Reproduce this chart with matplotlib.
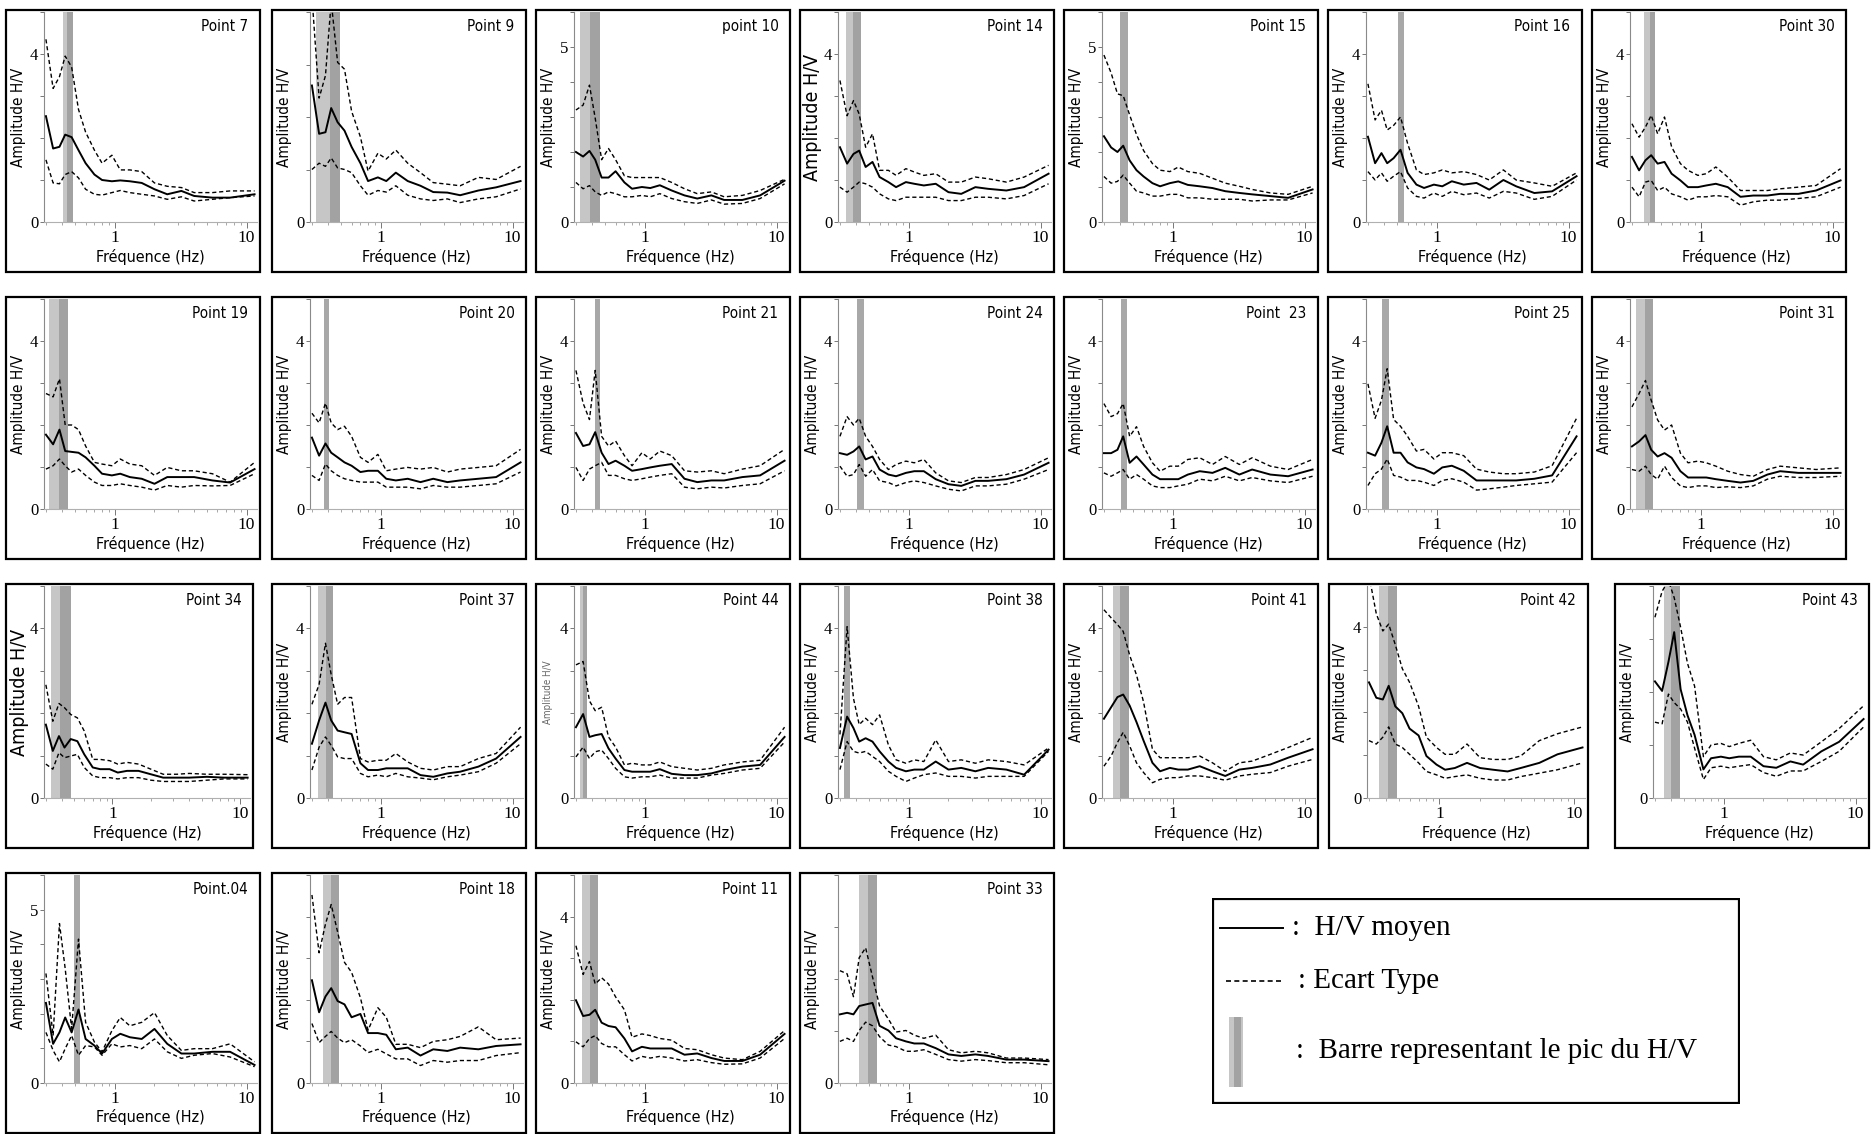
import matplotlib
matplotlib.use("Agg")
import matplotlib.pyplot as plt
from matplotlib.patches import Rectangle
from matplotlib.ticker import FixedLocator, FixedFormatter, LogLocator, NullFormatter

# fréquences communes (Hz)
freq = [0.30, 0.34, 0.38, 0.42, 0.47, 0.53, 0.60, 0.70, 0.80, 0.95,
        1.1, 1.3, 1.6, 2.0, 2.5, 3.2, 4.0, 5.5, 7.5, 11.5]

# --- rangée 1 ---
p7_moy = [2.52, 1.75, 1.79, 2.08, 2.02, 1.71, 1.40, 1.13, 1.00, 0.97, 0.99, 0.97, 0.93, 0.78, 0.66, 0.74, 0.62, 0.58, 0.58, 0.66]
p7_sup = [4.35, 3.18, 3.46, 3.95, 3.69, 2.68, 2.14, 1.71, 1.40, 1.59, 1.24, 1.24, 1.20, 0.93, 0.85, 0.82, 0.70, 0.70, 0.74, 0.74]
p7_inf = [1.48, 0.93, 0.91, 1.13, 1.20, 1.05, 0.78, 0.66, 0.64, 0.70, 0.75, 0.70, 0.66, 0.62, 0.54, 0.60, 0.50, 0.54, 0.58, 0.62]

p9_moy = [2.60, 1.68, 1.71, 2.17, 1.90, 1.74, 1.43, 1.12, 0.78, 0.85, 0.78, 0.94, 0.78, 0.69, 0.57, 0.56, 0.51, 0.60, 0.66, 0.78]
p9_sup = [4.30, 2.36, 2.79, 4.20, 3.04, 2.91, 2.11, 1.62, 0.97, 1.31, 1.20, 1.37, 1.12, 0.94, 0.75, 0.72, 0.69, 0.85, 0.81, 1.06]
p9_inf = [1.00, 1.12, 1.06, 1.22, 1.03, 1.00, 0.94, 0.69, 0.51, 0.60, 0.57, 0.69, 0.51, 0.44, 0.41, 0.44, 0.37, 0.44, 0.48, 0.63]

p10_moy = [2.00, 1.87, 2.03, 1.78, 1.27, 1.27, 1.45, 1.13, 0.95, 1.00, 0.97, 1.05, 0.90, 0.76, 0.67, 0.76, 0.63, 0.63, 0.76, 1.18]
p10_sup = [3.20, 3.34, 3.91, 2.97, 1.78, 2.10, 1.78, 1.32, 1.27, 1.27, 1.27, 1.27, 1.13, 0.95, 0.81, 0.86, 0.72, 0.76, 0.90, 1.22]
p10_inf = [1.13, 0.95, 1.04, 0.86, 0.76, 0.86, 0.81, 0.72, 0.72, 0.76, 0.72, 0.81, 0.67, 0.58, 0.53, 0.63, 0.51, 0.53, 0.67, 1.09]

p14_moy = [1.78, 1.39, 1.62, 1.70, 1.31, 1.43, 1.07, 0.95, 0.83, 0.95, 0.91, 0.87, 0.91, 0.71, 0.67, 0.83, 0.79, 0.75, 0.83, 1.15]
p14_sup = [3.37, 2.53, 2.89, 2.57, 1.78, 2.10, 1.23, 1.23, 1.11, 1.27, 1.19, 1.11, 1.15, 0.95, 0.95, 1.07, 1.03, 0.95, 1.07, 1.35]
p14_inf = [0.83, 0.71, 0.83, 0.95, 0.91, 0.83, 0.67, 0.55, 0.51, 0.59, 0.59, 0.59, 0.59, 0.51, 0.51, 0.59, 0.59, 0.55, 0.63, 0.91]

p15_moy = [2.45, 2.13, 2.00, 2.18, 1.76, 1.48, 1.30, 1.11, 1.02, 1.11, 1.16, 1.06, 1.02, 0.97, 0.88, 0.83, 0.79, 0.74, 0.69, 0.93]
p15_sup = [4.77, 4.26, 3.66, 3.61, 3.06, 2.50, 2.04, 1.67, 1.48, 1.44, 1.57, 1.44, 1.39, 1.25, 1.11, 1.02, 0.93, 0.83, 0.79, 1.02]
p15_inf = [1.30, 1.11, 1.16, 1.34, 1.11, 0.88, 0.83, 0.74, 0.74, 0.79, 0.79, 0.69, 0.69, 0.65, 0.65, 0.65, 0.60, 0.63, 0.63, 0.83]

p16_moy = [2.03, 1.40, 1.64, 1.40, 1.52, 1.72, 1.17, 0.89, 0.81, 0.89, 0.85, 0.97, 0.89, 0.93, 0.77, 1.00, 0.85, 0.69, 0.73, 1.09]
p16_sup = [3.29, 2.43, 2.66, 2.19, 2.30, 2.50, 1.87, 1.24, 1.13, 1.17, 1.24, 1.17, 1.20, 1.13, 1.00, 1.24, 1.00, 0.93, 0.85, 1.17]
p16_inf = [1.20, 1.00, 1.17, 0.97, 1.09, 1.20, 0.81, 0.61, 0.57, 0.69, 0.61, 0.73, 0.65, 0.69, 0.57, 0.73, 0.69, 0.54, 0.61, 1.00]

p30_moy = [1.55, 1.23, 1.47, 1.59, 1.39, 1.43, 1.15, 0.99, 0.83, 0.83, 0.87, 0.91, 0.83, 0.60, 0.63, 0.63, 0.67, 0.67, 0.75, 0.99]
p30_sup = [2.34, 2.02, 2.26, 2.54, 2.10, 2.50, 1.79, 1.39, 1.23, 1.11, 1.15, 1.31, 1.07, 0.75, 0.75, 0.75, 0.79, 0.83, 0.87, 1.27]
p30_inf = [0.83, 0.60, 0.95, 0.99, 0.75, 0.83, 0.67, 0.60, 0.52, 0.60, 0.60, 0.63, 0.60, 0.40, 0.48, 0.52, 0.52, 0.56, 0.60, 0.83]

# --- rangée 2 ---
p19_moy = [1.77, 1.54, 1.89, 1.38, 1.36, 1.34, 1.23, 1.03, 0.84, 0.80, 0.84, 0.76, 0.72, 0.60, 0.76, 0.76, 0.76, 0.68, 0.63, 0.95]
p19_sup = [2.75, 2.67, 3.10, 2.00, 2.00, 1.89, 1.50, 1.11, 1.07, 1.03, 1.19, 1.07, 1.03, 0.80, 0.99, 0.91, 0.91, 0.84, 0.64, 1.11]
p19_inf = [0.95, 1.03, 1.19, 1.03, 0.88, 0.95, 0.80, 0.64, 0.56, 0.56, 0.60, 0.56, 0.52, 0.45, 0.56, 0.52, 0.56, 0.55, 0.56, 0.84]

p20_moy = [1.70, 1.27, 1.56, 1.34, 1.23, 1.11, 1.03, 0.88, 0.91, 0.91, 0.72, 0.68, 0.72, 0.64, 0.72, 0.64, 0.68, 0.72, 0.76, 1.11]
p20_sup = [2.28, 2.05, 2.52, 2.05, 1.89, 1.97, 1.73, 1.23, 1.11, 1.30, 0.91, 0.95, 0.99, 0.95, 0.99, 0.88, 0.95, 0.99, 1.03, 1.42]
p20_inf = [0.80, 0.68, 1.07, 0.91, 0.80, 0.72, 0.68, 0.64, 0.64, 0.64, 0.52, 0.52, 0.52, 0.48, 0.56, 0.52, 0.52, 0.56, 0.60, 0.88]

p21_moy = [1.81, 1.50, 1.54, 1.83, 1.34, 1.07, 1.15, 1.03, 0.91, 0.95, 0.99, 1.03, 1.07, 0.72, 0.64, 0.68, 0.68, 0.76, 0.80, 1.15]
p21_sup = [3.30, 2.52, 2.13, 3.30, 1.73, 1.50, 1.62, 1.27, 1.03, 1.34, 1.19, 1.38, 1.27, 0.91, 0.88, 0.91, 0.84, 0.95, 1.03, 1.42]
p21_inf = [0.99, 0.68, 0.95, 1.03, 1.11, 0.80, 0.80, 0.72, 0.68, 0.72, 0.76, 0.80, 0.84, 0.52, 0.48, 0.52, 0.50, 0.56, 0.60, 0.91]

p24_moy = [1.33, 1.29, 1.37, 1.49, 1.18, 1.25, 0.94, 0.82, 0.78, 0.86, 0.90, 0.90, 0.71, 0.59, 0.55, 0.67, 0.67, 0.71, 0.82, 1.10]
p24_sup = [1.73, 2.20, 2.00, 2.16, 1.73, 1.49, 1.18, 0.94, 1.06, 1.14, 1.10, 1.18, 0.86, 0.67, 0.63, 0.75, 0.75, 0.82, 0.94, 1.22]
p24_inf = [1.02, 0.78, 0.82, 1.06, 0.78, 0.94, 0.67, 0.63, 0.55, 0.63, 0.67, 0.63, 0.55, 0.47, 0.43, 0.55, 0.55, 0.59, 0.71, 0.94]

p23_moy = [1.33, 1.33, 1.41, 1.73, 1.10, 1.25, 1.06, 0.82, 0.71, 0.71, 0.71, 0.82, 0.90, 0.86, 0.98, 0.82, 0.94, 0.82, 0.78, 0.94]
p23_sup = [2.51, 2.20, 2.27, 2.51, 1.73, 1.96, 1.49, 1.10, 0.90, 1.02, 1.02, 1.18, 1.22, 1.06, 1.25, 1.06, 1.22, 1.02, 0.94, 1.18]
p23_inf = [0.86, 0.78, 0.86, 0.94, 0.71, 0.82, 0.71, 0.55, 0.51, 0.51, 0.55, 0.59, 0.71, 0.67, 0.78, 0.67, 0.75, 0.67, 0.63, 0.78]

p25_moy = [1.34, 1.27, 1.58, 1.97, 1.34, 1.34, 1.11, 0.99, 0.95, 0.84, 0.99, 1.03, 0.91, 0.68, 0.68, 0.68, 0.68, 0.72, 0.80, 1.73]
p25_sup = [2.98, 2.16, 2.59, 3.34, 2.13, 1.97, 1.73, 1.38, 1.42, 1.19, 1.34, 1.34, 1.27, 0.95, 0.88, 0.84, 0.84, 0.88, 1.03, 2.16]
p25_inf = [0.56, 0.84, 0.95, 1.19, 0.80, 0.76, 0.68, 0.68, 0.64, 0.56, 0.68, 0.72, 0.64, 0.45, 0.48, 0.52, 0.56, 0.60, 0.64, 1.34]

p31_moy = [1.49, 1.61, 1.76, 1.41, 1.25, 1.33, 1.22, 0.90, 0.75, 0.75, 0.75, 0.71, 0.67, 0.63, 0.67, 0.82, 0.90, 0.86, 0.86, 0.86]
p31_sup = [2.43, 2.75, 3.06, 2.59, 2.12, 1.88, 2.00, 1.33, 1.10, 1.14, 1.10, 1.02, 0.90, 0.82, 0.78, 0.94, 1.02, 0.98, 0.94, 0.98]
p31_inf = [0.94, 0.90, 1.02, 0.82, 0.71, 1.02, 0.75, 0.55, 0.51, 0.55, 0.55, 0.51, 0.53, 0.51, 0.55, 0.71, 0.78, 0.75, 0.75, 0.78]

# --- rangée 3 ---
p34_moy = [1.73, 1.11, 1.46, 1.19, 1.39, 1.34, 1.03, 0.72, 0.68, 0.68, 0.60, 0.64, 0.64, 0.56, 0.48, 0.48, 0.48, 0.50, 0.48, 0.48]
p34_sup = [2.67, 1.81, 2.23, 2.13, 1.97, 1.89, 1.58, 0.91, 0.91, 0.88, 0.80, 0.84, 0.80, 0.68, 0.56, 0.56, 0.58, 0.56, 0.56, 0.55]
p34_inf = [0.80, 0.68, 1.07, 0.95, 0.99, 1.03, 0.72, 0.52, 0.48, 0.48, 0.45, 0.48, 0.48, 0.42, 0.39, 0.39, 0.39, 0.42, 0.45, 0.45]

p37_moy = [1.28, 1.83, 2.25, 1.83, 1.59, 1.55, 1.51, 0.82, 0.66, 0.66, 0.70, 0.70, 0.70, 0.54, 0.50, 0.58, 0.62, 0.74, 0.93, 1.44]
p37_sup = [2.21, 2.68, 3.65, 2.91, 2.21, 2.37, 2.37, 0.93, 0.85, 0.89, 0.89, 1.05, 0.85, 0.70, 0.66, 0.74, 0.74, 0.93, 1.05, 1.67]
p37_inf = [0.66, 1.20, 1.44, 1.24, 0.97, 0.93, 0.93, 0.58, 0.50, 0.54, 0.50, 0.58, 0.50, 0.47, 0.43, 0.50, 0.54, 0.62, 0.82, 1.28]

p44_moy = [1.67, 1.98, 1.44, 1.48, 1.51, 1.17, 0.93, 0.66, 0.62, 0.62, 0.62, 0.68, 0.57, 0.54, 0.54, 0.58, 0.66, 0.74, 0.78, 1.44]
p44_sup = [3.14, 3.22, 2.29, 2.06, 2.14, 1.44, 1.20, 0.78, 0.82, 0.78, 0.78, 0.85, 0.74, 0.70, 0.66, 0.70, 0.78, 0.85, 0.89, 1.67]
p44_inf = [0.97, 1.20, 0.93, 1.09, 1.13, 0.93, 0.70, 0.50, 0.47, 0.50, 0.50, 0.54, 0.47, 0.47, 0.47, 0.54, 0.58, 0.66, 0.70, 1.32]

p38_moy = [1.18, 1.92, 1.65, 1.33, 1.41, 1.33, 1.10, 0.86, 0.71, 0.63, 0.67, 0.67, 0.86, 0.67, 0.71, 0.63, 0.71, 0.67, 0.55, 1.14]
p38_sup = [1.50, 4.04, 2.35, 1.73, 1.88, 1.73, 1.96, 1.25, 0.90, 0.82, 0.90, 0.86, 1.37, 0.86, 0.90, 0.82, 0.90, 0.86, 0.78, 1.18]
p38_inf = [0.67, 1.33, 1.10, 1.06, 1.10, 0.98, 0.86, 0.63, 0.51, 0.39, 0.47, 0.55, 0.59, 0.51, 0.51, 0.47, 0.51, 0.51, 0.51, 1.10]

p41_moy = [1.87, 2.14, 2.38, 2.44, 2.18, 1.79, 1.35, 0.83, 0.63, 0.71, 0.67, 0.67, 0.75, 0.63, 0.52, 0.67, 0.71, 0.79, 0.95, 1.15]
p41_sup = [4.44, 4.25, 4.09, 3.93, 3.37, 2.90, 2.26, 1.15, 0.95, 0.95, 0.95, 0.95, 0.99, 0.83, 0.63, 0.83, 0.87, 1.03, 1.19, 1.43]
p41_inf = [0.75, 0.99, 1.31, 1.55, 1.23, 0.83, 0.60, 0.36, 0.44, 0.48, 0.48, 0.52, 0.52, 0.48, 0.42, 0.52, 0.56, 0.60, 0.75, 0.91]

p42_moy = [2.70, 2.34, 2.30, 2.62, 2.14, 1.98, 1.62, 1.46, 0.98, 0.78, 0.66, 0.70, 0.82, 0.70, 0.66, 0.62, 0.70, 0.82, 1.02, 1.18]
p42_sup = [5.20, 4.30, 3.90, 4.06, 3.58, 3.02, 2.70, 2.14, 1.42, 1.18, 1.02, 1.02, 1.26, 0.94, 0.90, 0.90, 0.98, 1.34, 1.50, 1.66]
p42_inf = [1.34, 1.26, 1.42, 1.66, 1.26, 1.18, 1.02, 0.82, 0.62, 0.54, 0.46, 0.50, 0.54, 0.46, 0.42, 0.42, 0.50, 0.58, 0.66, 0.82]

p43_moy = [2.20, 2.02, 2.57, 3.13, 2.05, 1.56, 1.19, 0.54, 0.75, 0.78, 0.75, 0.78, 0.78, 0.60, 0.57, 0.69, 0.63, 0.88, 1.06, 1.49]
p43_sup = [3.41, 3.90, 4.10, 3.78, 3.22, 2.54, 2.11, 0.78, 1.00, 1.03, 0.97, 1.03, 1.09, 0.78, 0.72, 0.85, 0.81, 1.06, 1.31, 1.74]
p43_inf = [1.43, 1.40, 1.96, 1.80, 1.68, 1.43, 0.94, 0.35, 0.57, 0.60, 0.57, 0.60, 0.63, 0.48, 0.41, 0.51, 0.51, 0.69, 0.88, 1.34]

# --- rangée 4 ---
p04_moy = [2.31, 1.13, 1.46, 1.89, 1.46, 2.12, 1.27, 1.08, 0.85, 1.27, 1.42, 1.32, 1.27, 1.56, 1.13, 0.85, 0.85, 0.90, 0.90, 0.52]
p04_sup = [3.16, 1.37, 4.60, 3.30, 1.56, 4.15, 1.75, 1.18, 0.90, 1.51, 1.89, 1.65, 1.75, 2.03, 1.37, 0.94, 0.99, 0.99, 1.13, 0.61]
p04_inf = [1.46, 0.94, 0.61, 0.99, 1.37, 0.80, 1.08, 1.04, 0.80, 1.13, 1.04, 1.08, 0.99, 1.27, 0.90, 0.71, 0.80, 0.85, 0.75, 0.47]

p18_moy = [2.47, 1.70, 2.08, 2.28, 1.97, 1.89, 1.58, 1.66, 1.20, 1.20, 1.16, 0.81, 0.85, 0.66, 0.81, 0.77, 0.85, 0.81, 0.89, 0.93]
p18_sup = [4.52, 3.13, 3.82, 4.29, 3.63, 2.90, 2.66, 2.05, 1.27, 1.81, 1.58, 0.93, 0.93, 0.85, 1.00, 1.04, 1.12, 1.35, 1.04, 1.08]
p18_inf = [1.43, 0.97, 1.12, 1.24, 1.08, 0.97, 1.04, 0.89, 0.73, 0.81, 0.70, 0.58, 0.58, 0.42, 0.54, 0.50, 0.54, 0.54, 0.66, 0.73]

p11_moy = [1.99, 1.61, 1.64, 1.76, 1.45, 1.37, 1.34, 1.07, 0.76, 0.87, 0.83, 0.83, 0.83, 0.68, 0.71, 0.60, 0.53, 0.53, 0.68, 1.18]
p11_sup = [3.30, 2.61, 2.92, 2.38, 2.53, 2.38, 2.07, 1.76, 1.10, 1.18, 1.14, 1.07, 1.03, 0.83, 0.80, 0.68, 0.60, 0.56, 0.76, 1.26]
p11_inf = [0.99, 0.87, 1.07, 1.14, 0.95, 0.87, 0.87, 0.68, 0.53, 0.64, 0.60, 0.64, 0.60, 0.53, 0.56, 0.49, 0.45, 0.46, 0.60, 1.07]

p33_moy = [1.32, 1.35, 1.32, 1.48, 1.51, 1.54, 1.10, 1.01, 0.86, 0.80, 0.76, 0.76, 0.67, 0.55, 0.52, 0.55, 0.52, 0.45, 0.45, 0.42]
p33_sup = [2.16, 2.10, 1.66, 2.41, 2.60, 2.04, 1.48, 1.23, 0.98, 1.01, 0.92, 0.86, 0.92, 0.64, 0.58, 0.61, 0.58, 0.48, 0.48, 0.45]
p33_inf = [0.80, 0.86, 0.80, 1.01, 1.17, 1.10, 0.89, 0.73, 0.70, 0.61, 0.61, 0.64, 0.55, 0.45, 0.42, 0.45, 0.43, 0.39, 0.39, 0.35]

noms = ["Point 7", "Point 9", "point 10", "Point 14", "Point 15", "Point 16", "Point 30",
        "Point 19", "Point 20", "Point 21", "Point 24", "Point  23", "Point 25", "Point 31",
        "Point 34", "Point 37", "Point 44", "Point 38", "Point 41", "Point 42", "Point 43",
        "Point.04", "Point 18", "Point 11", "Point 33"]
moyens = [p7_moy, p9_moy, p10_moy, p14_moy, p15_moy, p16_moy, p30_moy,
          p19_moy, p20_moy, p21_moy, p24_moy, p23_moy, p25_moy, p31_moy,
          p34_moy, p37_moy, p44_moy, p38_moy, p41_moy, p42_moy, p43_moy,
          p04_moy, p18_moy, p11_moy, p33_moy]
sups = [p7_sup, p9_sup, p10_sup, p14_sup, p15_sup, p16_sup, p30_sup,
        p19_sup, p20_sup, p21_sup, p24_sup, p23_sup, p25_sup, p31_sup,
        p34_sup, p37_sup, p44_sup, p38_sup, p41_sup, p42_sup, p43_sup,
        p04_sup, p18_sup, p11_sup, p33_sup]
infs = [p7_inf, p9_inf, p10_inf, p14_inf, p15_inf, p16_inf, p30_inf,
        p19_inf, p20_inf, p21_inf, p24_inf, p23_inf, p25_inf, p31_inf,
        p34_inf, p37_inf, p44_inf, p38_inf, p41_inf, p42_inf, p43_inf,
        p04_inf, p18_inf, p11_inf, p33_inf]
# barre du pic : début, début partie foncée, fin (Hz)
pics = [(0.405, 0.435, 0.484), (0.32, 0.41, 0.49), (0.32, 0.385, 0.46), (0.333, 0.376, 0.433),
        (0.394, 0.394, 0.455), (0.505, 0.505, 0.562), (0.371, 0.408, 0.45),
        (0.316, 0.377, 0.443), (0.368, 0.368, 0.402), (0.416, 0.416, 0.455), (0.407, 0.407, 0.453),
        (0.406, 0.406, 0.446), (0.384, 0.384, 0.432), (0.322, 0.376, 0.434),
        (0.328, 0.39, 0.473), (0.336, 0.381, 0.436), (0.322, 0.34, 0.361), (0.324, 0.324, 0.356),
        (0.352, 0.396, 0.462), (0.356, 0.417, 0.482), (0.354, 0.399, 0.461),
        (0.49, 0.49, 0.543), (0.363, 0.422, 0.484), (0.331, 0.385, 0.443), (0.422, 0.487, 0.569)]
ymax = [5.0, 4.0, 6.0, 5.0, 6.0, 5.0, 5.0,
        5.0, 5.0, 5.0, 5.0, 5.0, 5.0, 5.0,
        5.0, 5.0, 5.0, 5.0, 5.0, 4.95, 4.0,
        6.0, 5.0, 5.0, 4.0]
# graduation haute étiquetée (None = seulement 0)
ytop = [4, None, 5, 4, 5, 4, 4,
        4, 4, 4, 4, 4, 4, 4,
        4, 4, 4, 4, 4, 4, None,
        5, None, 4, None]

# mise en page (pixels de la figure)
W, H = 1872, 1134
col_x = [6, 272, 536, 800, 1064, 1328, 1592]
row_y = [10, 297, 584, 873]
row_h = [262, 262, 264, 260]

cadres = []
for r in range(3):
    for c in range(7):
        cadres.append([col_x[c], row_y[r], 254, row_h[r]])
cadres[14][2] = 247
cadres[19] = [1329, row_y[2], 259, row_h[2]]
cadres[20] = [1615, row_y[2], 254, row_h[2]]
for c in range(4):
    cadres.append([col_x[c], row_y[3], 254, row_h[3]])

sans = dict(family="DejaVu Sans", fontstretch="condensed")
serif = "Liberation Serif"

fig = plt.figure(figsize=(W / 100, H / 100), dpi=100)
fig.patch.set_facecolor("white")

for i in range(len(noms)):
    bx, by, bw, bh = cadres[i]
    fig.patches.append(Rectangle((bx / W, 1 - (by + bh) / H), bw / W, bh / H,
                                 transform=fig.transFigure, fill=False,
                                 ec="black", lw=1.6, zorder=5))
    ax = fig.add_axes([(bx + 38) / W, 1 - (by + bh - 50) / H, (bw - 41) / W, (bh - 52) / H])
    ax.set_xscale("log")
    ax.set_xlim(0.29, 12)
    ax.set_ylim(0, ymax[i])
    lo, mid, hi = pics[i]
    if mid > lo:
        ax.axvspan(lo, hi, color="#c6c6c6", lw=0, zorder=1)
        ax.axvspan(mid, hi, color="#a2a2a2", lw=0, zorder=1)
    else:
        ax.axvspan(lo, hi, color="#a8a8a8", lw=0, zorder=1)
    ax.plot(freq, sups[i], color="black", lw=1.0, ls=(0, (3, 2)), zorder=3)
    ax.plot(freq, infs[i], color="black", lw=1.0, ls=(0, (3, 2)), zorder=3)
    ax.plot(freq, moyens[i], color="black", lw=1.4, zorder=4)

    for s in ["top", "right"]:
        ax.spines[s].set_visible(False)
    ax.spines["left"].set_color("#8a8a8a")
    ax.spines["left"].set_linewidth(0.8)
    ax.spines["bottom"].set_color("#b0b0b0")
    ax.spines["bottom"].set_linewidth(0.8)

    ticks = list(range(0, int(ymax[i]) + 1))
    labels = ["0" if t == 0 else (str(t) if t == ytop[i] else "") for t in ticks]
    ax.yaxis.set_major_locator(FixedLocator(ticks))
    ax.yaxis.set_major_formatter(FixedFormatter(labels))
    ax.tick_params(axis="y", length=3, width=0.7, color="#777777", pad=1,
                   labelsize=12, labelfontfamily=serif)
    ax.xaxis.set_major_locator(FixedLocator([1, 10]))
    ax.xaxis.set_major_formatter(FixedFormatter(["1", "10"]))
    ax.xaxis.set_minor_locator(LogLocator(base=10, subs=[2, 3, 4, 5, 6, 7, 8, 9]))
    ax.xaxis.set_minor_formatter(NullFormatter())
    ax.tick_params(axis="x", which="major", length=4, width=0.7, color="#777777",
                   labelsize=12.5, labelfontfamily=serif, pad=2)
    ax.tick_params(axis="x", which="minor", length=2.5, width=0.6, color="#999999")

    ax.text(0.96, 0.965, noms[i], transform=ax.transAxes, ha="right", va="top",
            fontsize=11, **sans)
    ax.text(0.5, -0.165, "Fréquence (Hz)", transform=ax.transAxes, ha="center",
            va="center", fontsize=11.5, **sans)
    ysize, ycol = 11, "black"
    if noms[i] in ("Point 14", "Point 34"):
        ysize = 14
    if noms[i] == "Point 44":
        ysize, ycol = 7, "#666666"
    ax.text(-0.12, 0.5, "Amplitude H/V", transform=ax.transAxes, rotation=90,
            ha="center", va="center", fontsize=ysize, color=ycol, **sans)

# légende
lg = fig.add_axes([1212 / W, 1 - 1104 / H, 528 / W, 206 / H])
lg.set_xlim(0, 528)
lg.set_ylim(206, 0)
lg.axis("off")
lg.add_patch(Rectangle((1, 1), 526, 204, fill=False, ec="black", lw=1.6))
lg.plot([8, 71], [30, 30], color="black", lw=1.4)
lg.plot([14, 69], [83, 83], color="black", lw=1.2, ls=(0, (3, 2)))
lg.add_patch(Rectangle((17, 119), 14, 70, color="#c6c6c6", lw=0))
lg.add_patch(Rectangle((22, 119), 7, 70, color="#a2a2a2", lw=0))
lg.text(80, 30, ":  H/V moyen", fontsize=21, family=serif, va="center")
lg.text(86, 83, ": Ecart Type", fontsize=21, family=serif, va="center")
lg.text(84, 153, ":  Barre representant le pic du H/V", fontsize=21, family=serif, va="center")

fig.savefig("out.png", dpi=100)
